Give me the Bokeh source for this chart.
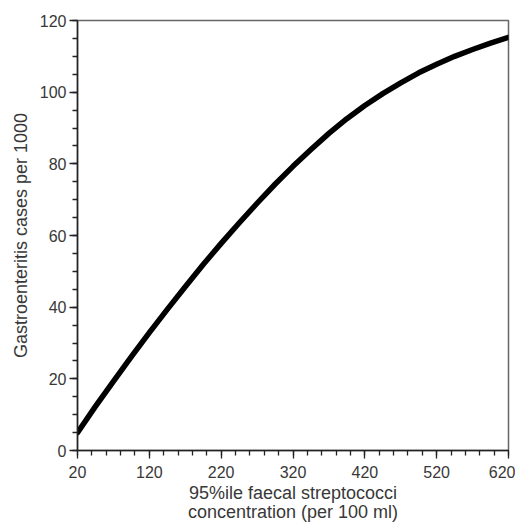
from bokeh.plotting import figure
from bokeh.models import FixedTicker, Range1d
from bokeh.embed import file_html
from bokeh.resources import INLINE

# data
conc = [20, 45, 70, 95, 120, 145, 170, 195, 220, 245, 270, 295, 320,
        345, 370, 395, 420, 445, 470, 495, 520, 545, 570, 595, 620]
cases = [5.0, 12.3, 19.3, 26.2, 32.9, 39.4, 45.7, 51.9, 57.8, 63.5, 69.0, 74.3, 79.3,
         84.0, 88.5, 92.6, 96.3, 99.6, 102.6, 105.4, 107.8, 110.0, 111.9, 113.7, 115.3]
x_ticks = [20, 120, 220, 320, 420, 520, 620]
x_minor = list(range(20, 621, 20))
y_ticks = [0, 20, 40, 60, 80, 100, 120]
y_minor = list(range(0, 121, 5))

p = figure(width=515, height=524, output_backend="svg", toolbar_location=None,
           x_range=Range1d(20, 620), y_range=Range1d(0, 120),
           min_border_left=77, min_border_right=7, min_border_top=20, min_border_bottom=73)
p.background_fill_color = "white"
p.border_fill_color = "white"
p.outline_line_color = "#666666"
p.outline_line_width = 1.5
p.grid.visible = False

p.line(conc, cases, line_width=5.5, line_color="black", line_cap="round", line_join="round")

font = "Liberation Sans"
p.xaxis.ticker = FixedTicker(ticks=x_ticks, minor_ticks=x_minor)
p.yaxis.ticker = FixedTicker(ticks=y_ticks, minor_ticks=y_minor)
p.xaxis.axis_label = "95%ile faecal streptococci\nconcentration (per 100 ml)"
p.yaxis.axis_label = "Gastroenteritis cases per 1000"
for ax in (p.xaxis, p.yaxis):
    ax.axis_line_color = "#222222"
    ax.axis_line_width = 1.5
    ax.major_tick_line_color = "#222222"
    ax.minor_tick_line_color = "#222222"
    ax.major_tick_line_width = 1.3
    ax.minor_tick_line_width = 1.3
    ax.major_tick_in = 0
    ax.minor_tick_in = 0
    ax.major_tick_out = 8
    ax.minor_tick_out = 5
    ax.major_label_text_font = font
    ax.major_label_text_font_size = "16px"
    ax.major_label_text_color = "#383838"
    ax.axis_label_text_font = font
    ax.axis_label_text_font_size = "18px"
    ax.axis_label_text_font_style = "normal"
    ax.axis_label_text_color = "#383838"
p.xaxis.axis_label_text_line_height = 0.95
p.xaxis.major_label_standoff = 7
p.yaxis.major_label_standoff = 3
p.xaxis.axis_label_standoff = 2
p.yaxis.axis_label_standoff = 6

open("out.html", "w").write(file_html(p, INLINE))
